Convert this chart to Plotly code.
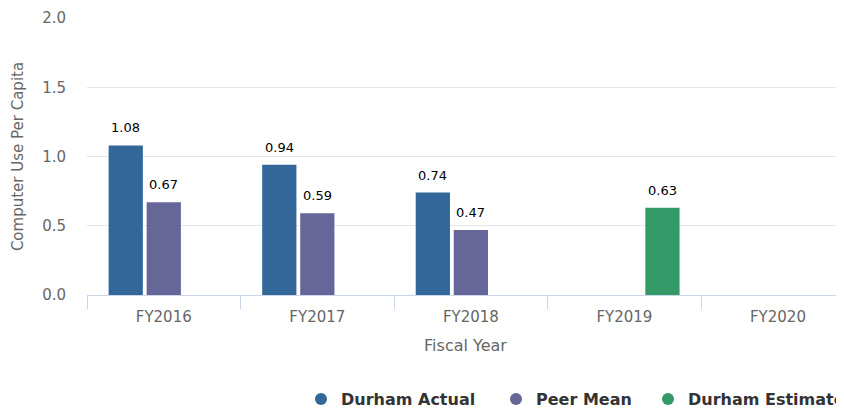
import plotly.graph_objects as go

categories = ["FY2016", "FY2017", "FY2018", "FY2019", "FY2020"]
durham_actual = [1.08, 0.94, 0.74, None, None]
peer_mean = [0.67, 0.59, 0.47, None, None]
durham_estimate = [None, None, None, 0.63, None]

series = [
    ("Durham Actual", durham_actual, "#336699"),
    ("Peer Mean", peer_mean, "#666699"),
    ("Durham Estimate", durham_estimate, "#339966"),
]

FONT = "DejaVu Sans, sans-serif"
BARGAP = 0.257
BARGROUPGAP = 0.1
W, H = 836, 401  # page body has an 8px default margin

legend_names = ["legend", "legend2", "legend3"]
legend_left_px = [293, 488, 640]

fig = go.Figure()
for name, vals, color in series:
    fig.add_trace(go.Bar(x=categories, y=vals, name=name, marker_color=color,
                         marker_line_width=0, showlegend=False, hoverinfo="x+y"))
for (name, vals, color), lg in zip(series, legend_names):
    fig.add_trace(go.Scatter(x=[None], y=[None], mode="markers", name=name, legend=lg,
                             marker=dict(symbol="circle", size=15, color=color)))

# data labels
n = len(series)
slot = (1 - BARGAP) / n
for si, (name, vals, color) in enumerate(series):
    off = (si - (n - 1) / 2) * slot
    for ci, v in enumerate(vals):
        if v is None:
            continue
        fig.add_annotation(x=ci + off, y=v, text=f"{v:.2f}", showarrow=False,
                           yanchor="bottom", yshift=8,
                           font=dict(family=FONT, size=13, color="#000000"))

legend_common = dict(orientation="h", xanchor="left",
                     yref="container", y=(H - 391) / H, yanchor="middle",
                     font=dict(family=FONT, size=16, color="#333333", weight="bold"),
                     itemsizing="constant", xref="container", bgcolor="rgba(0,0,0,0)")
legends = {lg: dict(legend_common, x=px / W) for lg, px in zip(legend_names, legend_left_px)}

fig.update_layout(
    width=W, height=H,
    margin=dict(l=79, r=0, t=10, b=H - 287, autoexpand=False),
    paper_bgcolor="white", plot_bgcolor="white",
    barmode="group", bargap=BARGAP, bargroupgap=BARGROUPGAP,
    font=dict(family=FONT, color="#666666"),
    **legends,
    xaxis=dict(
        type="category", range=[-0.5, 4.43], automargin=False,
        tickson="boundaries", ticks="outside", ticklen=13, tickcolor="#ccd6eb",
        ticklabelstandoff=8,
        showline=True, linecolor="#ccd6eb", linewidth=1, showgrid=False,
        tickfont=dict(family=FONT, size=15, color="#666666"),
        title=dict(text="Fiscal Year", font=dict(family=FONT, size=16, color="#666666"),
                   standoff=14),
        fixedrange=True,
    ),
    yaxis=dict(
        range=[0, 2.0], dtick=0.5, tickformat=".1f", automargin=False,
        showgrid=True, gridcolor="#e6e6e6", gridwidth=1, zeroline=False,
        showline=False, ticks="", ticklabelstandoff=20,
        tickfont=dict(family=FONT, size=15, color="#666666"),
        title=dict(text="Computer Use Per Capita",
                   font=dict(family=FONT, size=15, color="#666666"), standoff=14),
        fixedrange=True,
    ),
)

fig.write_html("out.html")
